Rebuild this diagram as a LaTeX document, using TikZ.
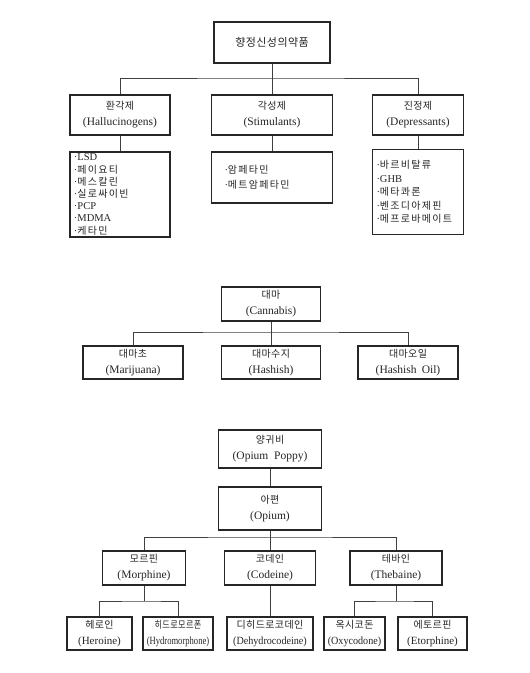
\documentclass[tikz,border=0pt]{standalone}
\usepackage{fontspec}
\usepackage{graphicx}
\setmainfont{Liberation Serif}
\newfontfamily\kr{Noto Sans CJK KR}
\newfontfamily\krs[LetterSpace=4]{Noto Sans CJK KR}
\newfontfamily\krl[LetterSpace=13]{Noto Sans CJK KR}
\newcommand{\kt}[1]{{\krs\fontsize{10}{10}\selectfont #1}}
\newcommand{\kl}[1]{{\krl\fontsize{10}{10}\selectfont #1}}
\tikzset{
  box/.style={draw=black!85, line width=1.4pt, inner sep=0pt, align=center,
    font=\fontsize{11.5}{16}\selectfont, text=black!85},
  lst/.style={box, align=left, font=\fontsize{10.5}{12.2}\selectfont},
  small/.style={font=\fontsize{11}{15.5}\selectfont},
  conn/.style={draw=black!75, line width=0.8pt}
}
\begin{document}
\begin{tikzpicture}[x=1pt,y=-1pt]
\fill[white] (0,0) rectangle (530,673);
\useasboundingbox (0,0) rectangle (530,673);
% ---------- section 1
\node[box, minimum width=116pt, minimum height=41pt] (top) at (272,42.5)
  {{\krs\fontsize{11}{14}\selectfont 향정신성의약품}};
\node[box, minimum width=100pt, minimum height=40pt] (hal) at (120,115) {\kt{환각제}\\(Hallucinogens)};
\node[box, minimum width=121pt, minimum height=40pt] (sti) at (272,115) {\kt{각성제}\\(Stimulants)};
\node[box, minimum width=91pt, minimum height=40pt] (dep) at (418,115) {\kt{진정제}\\(Depressants)};
\node[lst, text width=92pt, inner xsep=4pt, minimum height=85pt] (l1) at (120,194.5)
  {·LSD\\·\kl{페이요티}\\·\kl{메스칼린}\\·\kl{실로싸이빈}\\·PCP\\·MDMA\\·\kl{케타민}};
\node[lst, text width=95pt, inner xsep=13pt, minimum height=51pt, font=\fontsize{10.5}{15}\selectfont] (l2) at (272,177.5)
  {·\kl{암페타민}\\·\kl{메트암페타민}};
\node[lst, text width=83pt, inner xsep=4pt, minimum height=85pt, font=\fontsize{10.5}{13.5}\selectfont] (l3) at (418,192)
  {·\kl{바르비탈류}\\·GHB\\·\kl{메타콰론}\\·\kl{벤조디아제핀}\\·\kl{메프로바메이트}};
\coordinate (b1) at (272,78);
\draw[conn] (top.south) -- (b1);
\draw[conn] (hal.north) |- (b1) -| (dep.north);
\draw[conn] (b1) -- (sti.north);
\draw[conn] (hal.south) -- (l1.north);
\draw[conn] (sti.south) -- (l2.north);
\draw[conn] (dep.south) -- (l3.north);
% ---------- section 2
\node[box, minimum width=99pt, minimum height=34pt] (can) at (271,304) {\kt{대마}\\(Cannabis)};
\node[box, minimum width=100pt, minimum height=33pt] (mar) at (133,362.5) {\kt{대마초}\\(Marijuana)};
\node[box, minimum width=99pt, minimum height=33pt] (has) at (271,362.5) {\kt{대마수지}\\(Hashish)};
\node[box, minimum width=100pt, minimum height=33pt] (oil) at (408,362.5) {\kt{대마오일}\\(Hashish\hspace{0.45em}Oil)};
\coordinate (b2) at (271,332);
\draw[conn] (can.south) -- (has.north);
\draw[conn] (mar.north) |- (b2) -| (oil.north);
% ---------- section 3
\node[box, minimum width=103pt, minimum height=38pt] (pop) at (270,449) {\kt{양귀비}\\(Opium\hspace{0.5em}Poppy)};
\node[box, minimum width=103pt, minimum height=43pt] (opi) at (270,508.5) {\kt{아편}\\(Opium)};
\node[box, minimum width=83pt, minimum height=34pt] (mor) at (144,568) {\kt{모르핀}\\(Morphine)};
\node[box, minimum width=91pt, minimum height=34pt] (cod) at (270,568) {\kt{코데인}\\(Codeine)};
\node[box, minimum width=92pt, minimum height=34pt] (the) at (396,568) {\kt{테바인}\\(Thebaine)};
\coordinate (b3) at (270,537);
\draw[conn] (pop.south) -- (opi.north);
\draw[conn] (opi.south) -- (cod.north);
\draw[conn] (mor.north) |- (b3) -| (the.north);
\node[box, small, minimum width=65pt, minimum height=33pt] (her) at (99.5,633.5) {\kt{헤로인}\\(Heroine)};
\node[box, small, minimum width=70pt, minimum height=33pt] (hyd) at (178,633.5)
  {\scalebox{0.82}[1]{\kt{히드로모르폰}}\\\scalebox{0.78}[1]{(Hydromorphone)}};
\node[box, small, minimum width=86pt, minimum height=33pt] (deh) at (270,633.5)
  {\kt{디히드로코데인}\\\scalebox{0.92}[1]{(Dehydrocodeine)}};
\node[box, small, minimum width=61pt, minimum height=33pt] (oxy) at (354.5,633.5)
  {\kt{옥시코돈}\\\scalebox{0.92}[1]{(Oxycodone)}};
\node[box, small, minimum width=69pt, minimum height=33pt] (eto) at (432.5,633.5) {\kt{에토르핀}\\(Etorphine)};
\coordinate (b4) at (144,601);
\coordinate (b5) at (396,601);
\draw[conn] (mor.south) -- (b4);
\draw[conn] (her.north) |- (b4) -| (hyd.north);
\draw[conn] (cod.south) -- (deh.north);
\draw[conn] (the.south) -- (b5);
\draw[conn] (oxy.north) |- (b5) -| (eto.north);
\end{tikzpicture}
\end{document}
